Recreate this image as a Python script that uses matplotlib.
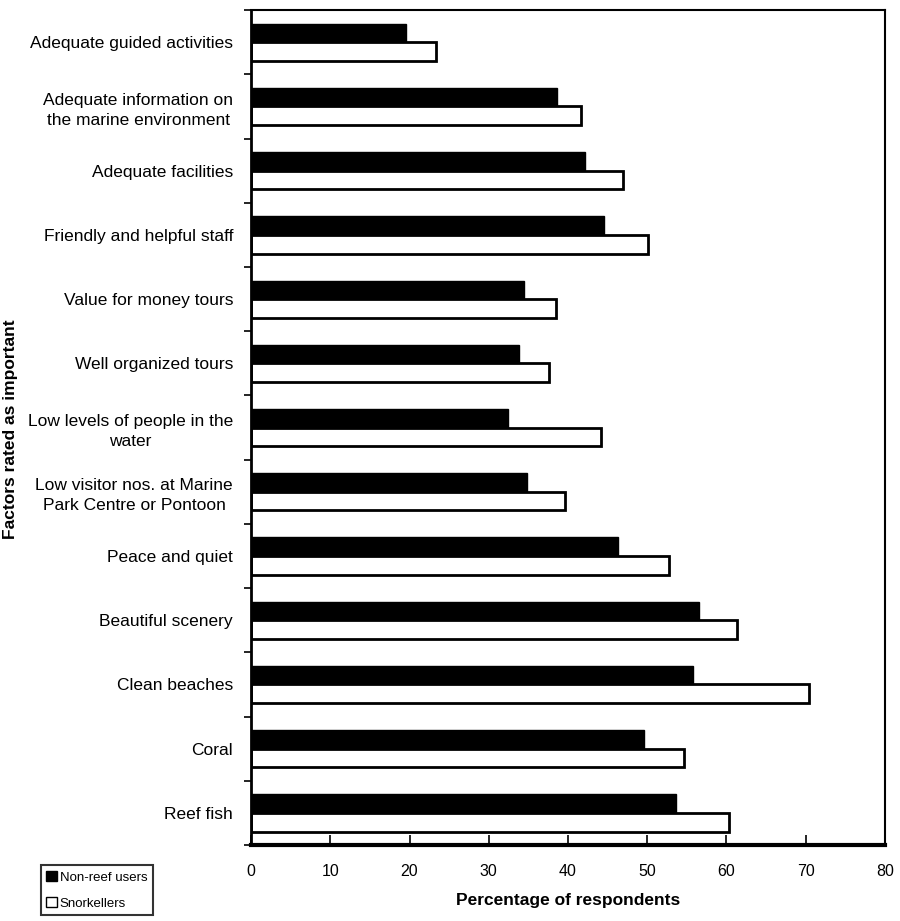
import numpy as np
import matplotlib
matplotlib.use('Agg')
import matplotlib.pyplot as plt
from matplotlib.patches import Patch

plt.rcParams['font.family'] = ['Liberation Sans', 'DejaVu Sans']

# categories from top to bottom
factors = ['Adequate guided activities',
           'Adequate information on\nthe marine environment',
           'Adequate facilities',
           'Friendly and helpful staff',
           'Value for money tours',
           'Well organized tours',
           'Low levels of people in the\nwater',
           'Low visitor nos. at Marine\nPark Centre or Pontoon',
           'Peace and quiet',
           'Beautiful scenery',
           'Clean beaches',
           'Coral',
           'Reef fish']
non_reef = [19.5, 38.6, 42.2, 44.6, 34.5, 33.8, 32.4, 34.8, 46.3, 56.5, 55.8, 49.6, 53.7]
snorkellers = [23.4, 41.7, 47.0, 50.1, 38.5, 37.6, 44.2, 39.6, 52.8, 61.3, 70.5, 54.6, 60.4]
xticks = [0, 10, 20, 30, 40, 50, 60, 70, 80]

fig = plt.figure(figsize=(9, 9.21), dpi=100)
ax = fig.add_axes([0.279, 0.0825, 0.704, 0.9065])

n = len(factors)
y = np.arange(n)
h = 0.29
ax.barh(y - h / 2, non_reef, height=h, color='black', edgecolor='black', linewidth=1)
ax.barh(y + h / 2, snorkellers, height=h, color='white', edgecolor='black', linewidth=2)

ax.set_ylim(n - 0.5, -0.5)
ax.set_xlim(0, 80)
ax.set_xticks(xticks)
ax.set_xticklabels([str(v) for v in xticks], fontsize=11.5)
ax.set_yticks(y)
ax.set_yticklabels(factors, fontsize=12.5, multialignment='center', linespacing=1.4)
ax.tick_params(axis='y', length=0, pad=13)
ax.set_yticks(np.arange(n + 1) - 0.5, minor=True)
ax.tick_params(axis='y', which='minor', length=5, width=1.2, direction='out')
ax.tick_params(axis='x', length=7, width=1.2, direction='in', pad=14)

for s in ['top', 'right']:
    ax.spines[s].set_linewidth(1.5)
ax.spines['left'].set_linewidth(2)
ax.spines['bottom'].set_linewidth(3)

ax.set_xlabel('Percentage of respondents', fontsize=12.5, fontweight='bold', labelpad=10)
fig.text(0.012, 0.534, 'Factors rated as important', rotation=90, fontsize=12.5,
         fontweight='bold', ha='center', va='center')

handles = [Patch(facecolor='black', edgecolor='black', label='Non-reef users'),
           Patch(facecolor='white', edgecolor='black', label='Snorkellers')]
leg = fig.legend(handles=handles, loc='lower left', bbox_to_anchor=(0.045, 0.006),
                 fontsize=9.5, frameon=True, fancybox=False,
                 handlelength=0.8, handleheight=0.8, handletextpad=0.2, borderpad=0.45,
                 labelspacing=1.0, borderaxespad=0)
leg.get_frame().set_edgecolor('black')
leg.get_frame().set_linewidth(1.5)

plt.savefig('out.png', dpi=100)
